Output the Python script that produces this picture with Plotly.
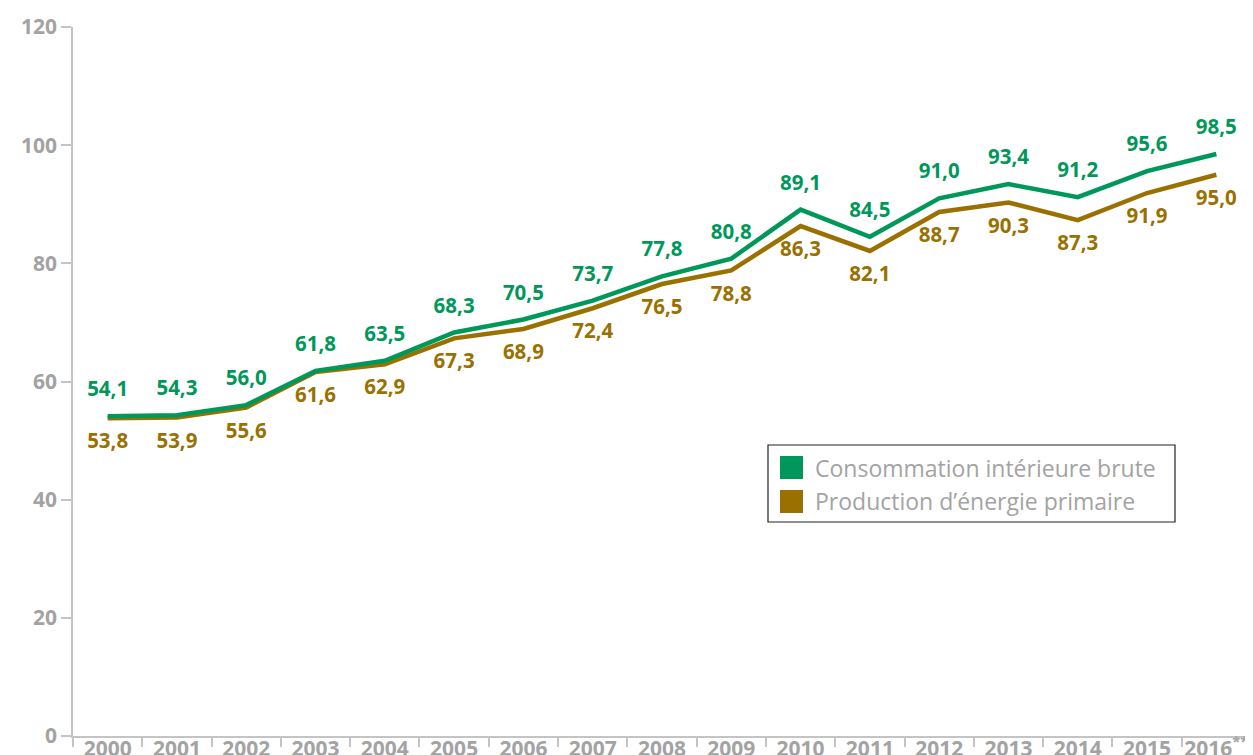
import plotly.graph_objects as go

years = ["2000", "2001", "2002", "2003", "2004", "2005", "2006", "2007", "2008",
         "2009", "2010", "2011", "2012", "2013", "2014", "2015", "2016"]
tick_labels = years[:-1] + ["2016<sup>**</sup>"]
consommation = [54.1, 54.3, 56.0, 61.8, 63.5, 68.3, 70.5, 73.7, 77.8, 80.8,
                89.1, 84.5, 91.0, 93.4, 91.2, 95.6, 98.5]
production = [53.8, 53.9, 55.6, 61.6, 62.9, 67.3, 68.9, 72.4, 76.5, 78.8,
              86.3, 82.1, 88.7, 90.3, 87.3, 91.9, 95.0]
series_names = ["Consommation intérieure brute", "Production d’énergie primaire"]

GREEN = "#00985a"
BROWN = "#9a7100"
GREY = "#a3a3a3"
FONT = "Open Sans"

OFF = 8  # page body margin
W, H = 1253 - OFF, 755 - OFF
L, T = 73 - OFF, 27 - OFF
R = W - (1251 - OFF)
B = H - (736 - OFF)
PW, PH = W - L - R, H - T - B


def px(x):
    return (x - OFF - L) / PW


def py(y):
    return 1 - (y - OFF - T) / PH


def fmt(v):
    return f"{v:.1f}".replace(".", ",")


fig = go.Figure()

for vals, color, pos in [(production, BROWN, "bottom center"),
                         (consommation, GREEN, "top center")]:
    fig.add_trace(go.Scatter(
        x=years, y=vals, mode="lines+markers+text",
        line=dict(color=color, width=4.5),
        marker=dict(size=22, opacity=0),
        text=[fmt(v) for v in vals], textposition=pos,
        textfont=dict(family=FONT, size=20.5, color=color, weight="bold"),
        showlegend=False))

fig.update_layout(
    width=W, height=H,
    margin=dict(l=L, r=R, t=T, b=B),
    plot_bgcolor="white", paper_bgcolor="white",
    xaxis=dict(
        type="category", range=[-0.5, 16.5], automargin=False,
        tickmode="array", tickvals=years, ticktext=tick_labels, tickangle=0,
        showgrid=False, zeroline=False,
        showline=True, linecolor="#c4c4c4", linewidth=1.5,
        ticks="outside", tickson="boundaries", ticklen=9, tickcolor="#c4c4c4",
        tickwidth=1.5, ticklabelstandoff=-7,
        tickfont=dict(family=FONT, size=21, color=GREY, weight="bold"),
    ),
    yaxis=dict(
        range=[0, 120], tickvals=[0, 20, 40, 60, 80, 100, 120], automargin=False,
        showgrid=False, zeroline=False,
        showline=True, linecolor="#c4c4c4", linewidth=1.5,
        ticks="outside", ticklen=10, tickcolor="#c4c4c4", tickwidth=1.5,
        tickfont=dict(family=FONT, size=21, color=GREY, weight="bold"),
    ),
)

# custom legend
shapes = [dict(type="rect", xref="paper", yref="paper",
               x0=px(768), x1=px(1175), y0=py(522), y1=py(445),
               line=dict(color="#222222", width=1.2), fillcolor="white")]
for name, color, yc in [(series_names[0], GREEN, 467.5), (series_names[1], BROWN, 501.5)]:
    shapes.append(dict(type="rect", xref="paper", yref="paper",
                       x0=px(780), x1=px(803), y0=py(yc + 11.5), y1=py(yc - 11.5),
                       line=dict(width=0), fillcolor=color))
    fig.add_annotation(xref="paper", yref="paper", x=px(813), y=py(yc),
                       xanchor="left", yanchor="middle", showarrow=False,
                       text=name, font=dict(family=FONT, size=23, color=GREY))
fig.update_layout(shapes=shapes)

fig.write_html("out.html")
